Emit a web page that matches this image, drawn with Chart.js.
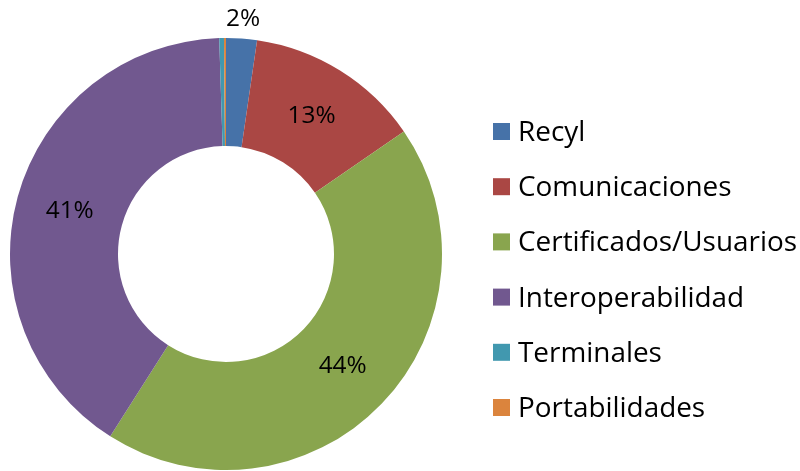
<!DOCTYPE html>
<html><head><meta charset="utf-8">
<script src="https://cdn.jsdelivr.net/npm/chart.js@4/dist/chart.umd.min.js"></script>
<style>html,body{margin:0;padding:0;background:#fff}#wrap{width:800px;height:471px;position:relative}</style>
</head><body><div id="wrap"><canvas id="c" width="800" height="471"></canvas></div>
<script>
const categories = ["Recyl","Comunicaciones","Certificados/Usuarios","Interoperabilidad","Terminales","Portabilidades"];
const values = [2.3, 13.1, 43.6, 40.5, 0.35, 0.15];
const labelsShown = ["2%","13%","44%","41%","",""];
const colors = ["#4672A8","#AA4744","#89A54E","#71588F","#4198AF","#DB843D"];

const FONT = "'Open Sans', sans-serif";

const labelPlugin = {
  id: 'lbls',
  afterDatasetsDraw(chart) {
    const ctx = chart.ctx;
    const meta = chart.getDatasetMeta(0);
    ctx.save();
    ctx.fillStyle = '#000';
    ctx.textAlign = 'center';
    ctx.textBaseline = 'middle';
    ctx.font = '22px ' + FONT;
    let ps = 22 * 48 / ctx.measureText('13%').width;
    ctx.font = ps.toFixed(1) + 'px ' + FONT;
    meta.data.forEach((arc, i) => {
      const t = labelsShown[i];
      if (!t) return;
      const p = arc.getProps(['x','y','startAngle','endAngle','innerRadius','outerRadius'], true);
      const mid = (p.startAngle + p.endAngle) / 2;
      let r = (p.innerRadius + p.outerRadius) / 2;
      if (i === 0) r = p.outerRadius + 20;
      ctx.fillText(t, p.x + Math.cos(mid) * r, p.y + Math.sin(mid) * r);
    });
    ctx.textAlign = 'left';
    ctx.textBaseline = 'alphabetic';
    ctx.font = '24px ' + FONT;
    let ls = 24 * 279 / ctx.measureText('Certificados/Usuarios').width;
    ctx.font = ls.toFixed(1) + 'px ' + FONT;
    categories.forEach((c, i) => {
      const cy = 132 + i * 55.2;
      ctx.fillStyle = colors[i];
      ctx.fillRect(493, cy - 9, 17, 17);
      ctx.fillStyle = '#000';
      ctx.fillText(c, 518, cy + 9);
    });
    ctx.restore();
  }
};

new Chart(document.getElementById('c'), {
  type: 'doughnut',
  data: { labels: categories, datasets: [{ data: values, backgroundColor: colors, borderWidth: 0 }] },
  options: {
    responsive: false,
    animation: false,
    cutout: '50%',
    layout: { padding: { left: 10, top: 38, right: 358, bottom: 1 } },
    plugins: { legend: { display: false }, tooltip: { enabled: false } }
  },
  plugins: [labelPlugin]
});
</script></body></html>
